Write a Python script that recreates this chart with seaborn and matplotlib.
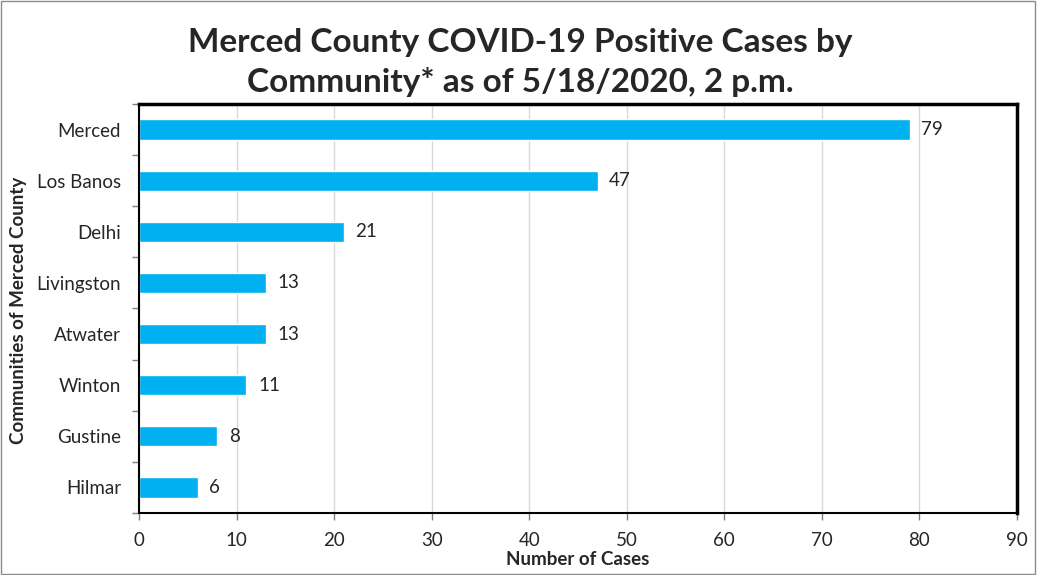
import matplotlib.pyplot as plt
import numpy as np
import pandas as pd
import seaborn as sns

communities = ['Merced', 'Los Banos', 'Delhi', 'Livingston', 'Atwater',
               'Winton', 'Gustine', 'Hilmar']
cases = [79, 47, 21, 13, 13, 11, 8, 6]
x_ticks = [0, 10, 20, 30, 40, 50, 60, 70, 80, 90]

df = pd.DataFrame({'community': communities, 'cases': cases})

sns.set_style('white')
plt.rcParams['font.family'] = ['Lato', 'DejaVu Sans']

fig = plt.figure(figsize=(10.41, 5.75), dpi=100)
ax = fig.add_axes([0.1335, 0.108, 0.8435, 0.711])

sns.barplot(data=df, x='cases', y='community', orient='h', color='#00B0F0',
            saturation=1, width=0.4, ax=ax)

ax.set_xlim(0, 90)
ax.set_ylim(7.5, -0.5)
ax.set_xticks(x_ticks)
ax.xaxis.grid(True, color='#d9d9d9', linewidth=1)
ax.set_axisbelow(True)

for i, v in enumerate(cases):
    ax.text(v + 1.2, i, str(v), va='center', ha='left', fontsize=13.5)

# ticks at category boundaries on y axis
ax.set_yticks(np.arange(-0.5, 8, 1), minor=True)
ax.tick_params(axis='y', which='major', length=0, labelsize=13.5, pad=13)
ax.tick_params(axis='y', which='minor', length=5, color='#808080', width=1,
               direction='out', left=True)
ax.tick_params(axis='x', which='major', length=5, color='#808080', width=1,
               direction='out', bottom=True, labelsize=13.5, pad=9)

for side in ['left', 'bottom']:
    ax.spines[side].set_color('black')
    ax.spines[side].set_linewidth(1.5)
for side in ['top', 'right']:
    ax.spines[side].set_color('black')
    ax.spines[side].set_linewidth(2.5)

ax.set_xlabel('')
ax.set_ylabel('')
fig.text(0.018, 0.461, 'Communities of Merced County', fontsize=13.5,
         fontweight='bold', rotation=90, ha='center', va='center')
fig.text(0.555, 0.012, 'Number of Cases', fontsize=13.5, fontweight='bold',
         ha='center', va='bottom')

fig.text(0.5, 0.952, 'Merced County COVID-19 Positive Cases by\nCommunity* as of 5/18/2020, 2 p.m.',
         fontsize=24, fontweight='bold', ha='center', va='top', linespacing=1.4)

# outer chart border
border = plt.Rectangle((0.001, 0.002), 0.993, 0.996, transform=fig.transFigure,
                       fill=False, edgecolor='#8c8c8c', linewidth=1)
fig.patches.append(border)

fig.savefig('out.png', dpi=100)
